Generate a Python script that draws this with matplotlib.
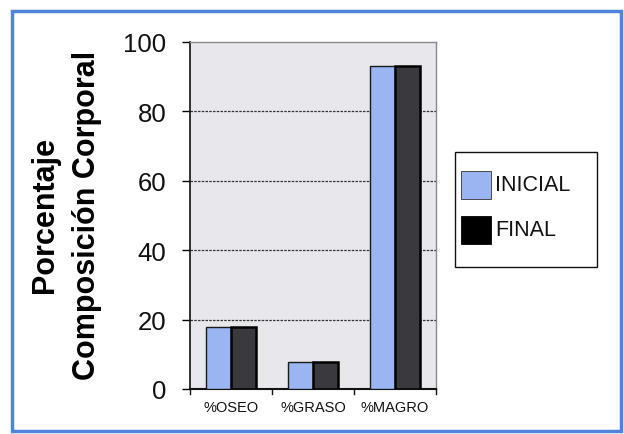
import matplotlib
matplotlib.use("Agg")
import matplotlib.pyplot as plt
import numpy as np
from matplotlib.patches import Rectangle

plt.rcParams['font.family'] = ['Liberation Sans', 'DejaVu Sans']

categories = ["%OSEO", "%GRASO", "%MAGRO"]
inicial = [17.8, 7.7, 93.0]
final = [17.9, 7.9, 93.0]
series_names = ["INICIAL", "FINAL"]
series_colors = ["#9bb5f2", "#3a3a3e"]
yticks = [0, 20, 40, 60, 80, 100]

W, H = 624, 435
fig = plt.figure(figsize=(W / 100, H / 100), dpi=100)
fig.patch.set_facecolor("white")


def fx(px):
    return px / W


def fy(py):
    return 1 - py / H


# blue frame around the whole figure
fig.patches.append(Rectangle((fx(12), fy(432)), fx(609), 420 / H,
                             transform=fig.transFigure, fill=False,
                             edgecolor="#4f84dc", linewidth=2.5))

ax = fig.add_axes([fx(190), fy(390), fx(246), 347 / H])
ax.set_facecolor("#e7e7ec")

x = np.arange(len(categories))
w = 0.30
ax.bar(x - w / 2, inicial, width=w, color=series_colors[0], edgecolor="#1a1a1a",
       linewidth=1.0, zorder=3)
ax.bar(x + w / 2, final, width=w, color=series_colors[1], edgecolor="#000000",
       linewidth=1.8, zorder=3)

ax.set_xlim(-0.5, len(categories) - 0.5)
ax.set_ylim(0, 100)
ax.set_yticks(yticks)
ax.set_yticklabels([str(v) for v in yticks], fontsize=18.5, color="#111111")
ax.set_xticks(x)
ax.set_xticklabels(categories, fontsize=10.5, color="#111111")
ax.tick_params(axis="x", length=0, pad=8)
ax.tick_params(axis="y", length=6, width=1, direction="out", pad=11)

# category separator ticks under the baseline
for b in np.arange(-0.5, len(categories), 1.0):
    ax.plot([b, b], [0, -1.5], color="#111111", lw=1, clip_on=False, zorder=4)

for v in yticks[1:-1]:
    ax.axhline(v, color="#333333", lw=0.9, ls=(0, (2, 1)), zorder=1)

for side in ["top", "right"]:
    ax.spines[side].set_color("#8a8a8a")
    ax.spines[side].set_linewidth(1.0)
ax.spines["left"].set_color("#111111")
ax.spines["bottom"].set_color("#111111")
ax.spines["left"].set_linewidth(1.2)
ax.spines["bottom"].set_linewidth(1.5)

fig.text(fx(45), fy(215), "Porcentaje", rotation=90, fontsize=22,
         fontweight="bold", ha="center", va="center")
fig.text(fx(87), fy(215), "Composición Corporal", rotation=90,
         fontsize=22, fontweight="bold", ha="center", va="center")

# legend box
fig.patches.append(Rectangle((fx(455), fy(268)), fx(142), 115 / H,
                             transform=fig.transFigure, facecolor="white",
                             edgecolor="#111111", linewidth=1.0))
leg_edges = ["#333333", "#000000"]
leg_faces = [series_colors[0], "#000000"]
for i, name in enumerate(series_names):
    top = 172 + i * 45
    fig.patches.append(Rectangle((fx(461), fy(top + 28)), fx(30), 28 / H,
                                 transform=fig.transFigure,
                                 facecolor=leg_faces[i], edgecolor=leg_edges[i],
                                 linewidth=0.6))
    fig.text(fx(495), fy(top + 14), name, fontsize=15.5, ha="left",
             va="center", color="#111111")

fig.savefig("out.png", dpi=100, facecolor="white")
